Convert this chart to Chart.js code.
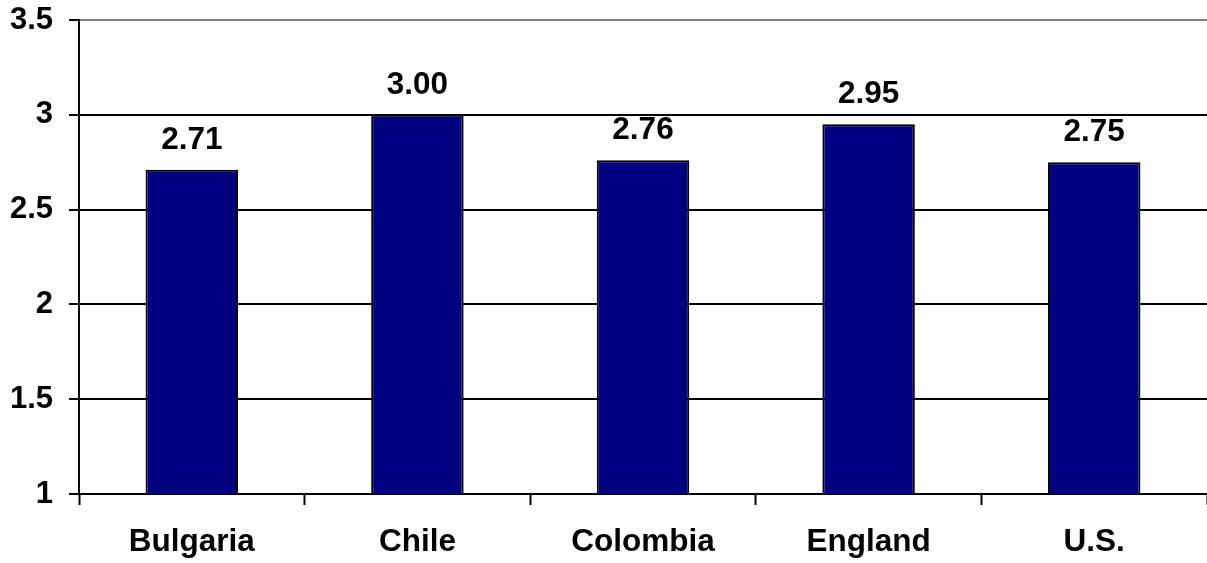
<!DOCTYPE html>
<html>
<head>
<meta charset="utf-8">
<script src="https://cdn.jsdelivr.net/npm/chart.js@4/dist/chart.umd.min.js"></script>
<style>
html,body{margin:0;padding:0;background:#fff;}
canvas{display:block;}
</style>
</head>
<body>
<canvas id="c" width="1207" height="563"></canvas>
<script>
const categories = ["Bulgaria", "Chile", "Colombia", "England", "U.S."];
const values = [2.71, 3.00, 2.76, 2.95, 2.75];
const valueLabels = ["2.71", "3.00", "2.76", "2.95", "2.75"];
const yTicks = [1, 1.5, 2, 2.5, 3, 3.5];

const FONT = "'Liberation Sans', Arial, sans-serif";

const dataLabelPlugin = {
  id: 'dataLabels',
  afterDatasetsDraw(chart) {
    const ctx = chart.ctx;
    const meta = chart.getDatasetMeta(0);
    ctx.save();
    ctx.font = "bold 31.5px " + FONT;
    ctx.fillStyle = "#000";
    ctx.textAlign = "center";
    ctx.textBaseline = "alphabetic";
    meta.data.forEach((bar, i) => {
      ctx.fillText(valueLabels[i], bar.x, bar.y - 21);
    });
    ctx.restore();
  }
};

new Chart(document.getElementById('c'), {
  type: 'bar',
  data: {
    labels: categories,
    datasets: [{
      data: values,
      backgroundColor: '#000080',
      borderColor: '#000',
      borderWidth: 2,
      barPercentage: 0.41,
      categoryPercentage: 1
    }]
  },
  options: {
    responsive: false,
    animation: false,
    devicePixelRatio: 1,
    layout: { padding: { top: 20, right: 0, bottom: 0, left: 0 } },
    plugins: { legend: { display: false }, tooltip: { enabled: false } },
    scales: {
      x: {
        grid: {
          offset: true,
          drawOnChartArea: false,
          drawTicks: true,
          tickLength: 11,
          tickColor: '#000',
          tickWidth: 2
        },
        border: { display: true, color: '#000', width: 2 },
        ticks: {
          color: '#000',
          font: { family: FONT, size: 31.5, weight: 'bold' },
          padding: 18,
          maxRotation: 0,
          autoSkip: false
        },
        afterFit(scale) { scale.height = 69; scale.paddingLeft = 0; scale.paddingRight = 0; }
      },
      y: {
        min: 1,
        max: 3.5,
        afterBuildTicks(scale) { scale.ticks = yTicks.map(v => ({ value: v })); },
        grid: {
          color: ctx => (ctx.tick && ctx.tick.value === 3.5) ? '#808080' : '#000',
          lineWidth: 2,
          tickLength: 10,
          tickColor: '#000',
          tickWidth: 2
        },
        border: { display: true, color: '#000', width: 2 },
        ticks: {
          color: '#000',
          font: { family: FONT, size: 31, weight: 'bold' },
          padding: 16,
          callback: v => String(v)
        },
        afterFit(scale) { scale.width = 79; scale.paddingTop = 0; scale.paddingBottom = 0; }
      }
    }
  },
  plugins: [dataLabelPlugin]
});
</script>
</body>
</html>
